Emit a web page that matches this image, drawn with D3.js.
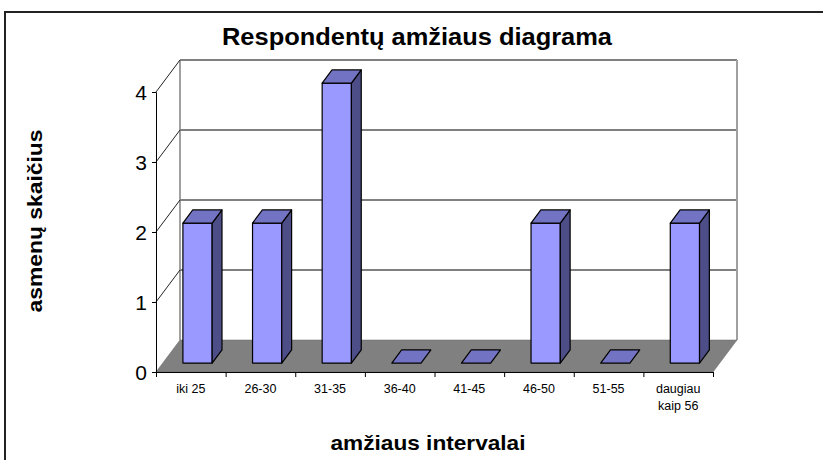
<!DOCTYPE html>
<html>
<head>
<meta charset="utf-8">
<script src="https://cdn.jsdelivr.net/npm/d3@7"></script>
<style>
  body { margin: 0; background: #fff; }
  svg text { font-family: "Liberation Sans", Arial, sans-serif; }
</style>
</head>
<body>
<svg id="chart" width="823" height="460"></svg>
<script>
// data
let categories = ["iki 25", "26-30", "31-35", "36-40", "41-45", "46-50", "51-55", "daugiau kaip 56"];
let values = [2, 2, 4, 0, 0, 2, 0, 2];
let yTicks = [0, 1, 2, 3, 4];

let svg = d3.select('#chart');

// outer frame (runs off the right and bottom)
svg.append('rect')
    .attr('x', 5).attr('y', 12)
    .attr('width', 900).attr('height', 500)
    .attr('fill', 'none').attr('stroke', '#222').attr('stroke-width', 2);

let x = d3.scaleBand().domain(categories).range([156, 713]).padding(0);
let xEdges = d3.scaleLinear().domain([0, categories.length]).range([156, 713]);
let y = d3.scaleLinear().domain([0, 4]).range([372, 92]);

// depth offset of the 3d box
let DX = 24, DY = -32;
function pt(px, py, f){ return [px + f*DX, py + f*DY]; }
function poly(points){ return points.map(p => p.join(',')).join(' '); }

let plot = svg.append('g');

// back wall grid lines
plot.selectAll('.grid')
    .data(yTicks.filter(d => d > 0))
    .enter().append('line')
    .attr('x1', 156 + DX).attr('x2', 713 + DX)
    .attr('y1', d => y(d) + DY).attr('y2', d => y(d) + DY)
    .attr('stroke', '#808080').attr('stroke-width', 2);

// back wall verticals
plot.append('line')
    .attr('x1', 156 + DX).attr('x2', 156 + DX)
    .attr('y1', y(4) + DY).attr('y2', y(0) + DY)
    .attr('stroke', '#808080').attr('stroke-width', 1.5);
plot.append('line')
    .attr('x1', 713 + DX).attr('x2', 713 + DX)
    .attr('y1', y(4) + DY).attr('y2', y(0) + DY)
    .attr('stroke', '#a0a0a0').attr('stroke-width', 2);

// left wall diagonals
plot.selectAll('.diag')
    .data(yTicks.filter(d => d > 0))
    .enter().append('line')
    .attr('x1', 156).attr('y1', d => y(d))
    .attr('x2', 156 + DX).attr('y2', d => y(d) + DY)
    .attr('stroke', '#222').attr('stroke-width', 1);

// floor
plot.append('polygon')
    .attr('points', poly([[156, y(0)], [713, y(0)], pt(713, y(0), 1), pt(156, y(0), 1)]))
    .attr('fill', '#808080').attr('stroke', '#666').attr('stroke-width', 0.5);

// bars
let f1 = 0.28, f2 = 0.69;
let barW = x.bandwidth() * 0.42;
let bars = plot.selectAll('.bar')
    .data(categories.map((c, i) => ({cat: c, v: values[i]})))
    .enter().append('g');

bars.each(function(d){
    let g = d3.select(this);
    let cx = x(d.cat) + x.bandwidth()/2;
    let l = cx - barW/2, r = cx + barW/2;
    let b = y(0), t = y(d.v);
    if(d.v > 0){
        // front
        g.append('polygon')
            .attr('points', poly([pt(l, b, f1), pt(r, b, f1), pt(r, t, f1), pt(l, t, f1)]))
            .attr('fill', '#9999ff').attr('stroke', '#000').attr('stroke-width', 1.2).attr('stroke-linejoin', 'round');
        // side
        g.append('polygon')
            .attr('points', poly([pt(r, b, f1), pt(r, b, f2), pt(r, t, f2), pt(r, t, f1)]))
            .attr('fill', '#4d4d87').attr('stroke', '#000').attr('stroke-width', 1.2).attr('stroke-linejoin', 'round');
    }
    // top
    g.append('polygon')
        .attr('points', poly([pt(l, t, f1), pt(r, t, f1), pt(r, t, f2), pt(l, t, f2)]))
        .attr('fill', '#7373c4').attr('stroke', '#000').attr('stroke-width', 1.2).attr('stroke-linejoin', 'round');
});

// axes
let yAxis = svg.append('g')
    .attr('transform', 'translate(156,0)')
    .call(d3.axisLeft(y).tickValues(yTicks).tickFormat(d3.format('d')).tickSize(4).tickPadding(5));
yAxis.select('.domain').attr('stroke', '#000');
yAxis.selectAll('.tick line').attr('stroke', '#000');
yAxis.selectAll('text').attr('font-size', 21).attr('fill', '#000').attr('dy', '0.35em')
    .attr('font-family', '"Liberation Sans", Arial, sans-serif');

let xTickAxis = svg.append('g')
    .attr('transform', 'translate(0,' + y(0) + ')')
    .call(d3.axisBottom(xEdges).ticks(categories.length).tickFormat('').tickSize(5).tickSizeOuter(0));
xTickAxis.select('.domain').attr('stroke', '#000');
xTickAxis.selectAll('.tick line').attr('stroke', '#000');

let xAxis = svg.append('g')
    .attr('transform', 'translate(0,' + y(0) + ')')
    .call(d3.axisBottom(x).tickSize(0).tickPadding(12));
xAxis.select('.domain').remove();
xAxis.selectAll('text')
    .attr('font-size', 12.5).attr('fill', '#000')
    .attr('font-family', '"Liberation Sans", Arial, sans-serif')
    .each(function(d){
        let words = d.split(' ');
        if(words.length > 2){
            let t = d3.select(this).text(null);
            t.append('tspan').attr('x', 0).text(words[0]);
            t.append('tspan').attr('x', 0).attr('dy', '1.35em').text(words.slice(1).join(' '));
        }
    });

// titles
svg.append('text')
    .attr('x', 417).attr('y', 45)
    .attr('text-anchor', 'middle')
    .attr('font-size', 23).attr('font-weight', 'bold')
    .attr('textLength', 390).attr('lengthAdjust', 'spacingAndGlyphs')
    .text('Respondentų amžiaus diagrama');

svg.append('text')
    .attr('x', 428).attr('y', 450)
    .attr('text-anchor', 'middle')
    .attr('font-size', 21).attr('font-weight', 'bold')
    .attr('textLength', 195).attr('lengthAdjust', 'spacingAndGlyphs')
    .text('amžiaus intervalai');

svg.append('text')
    .attr('transform', 'translate(42,221) rotate(-90)')
    .attr('text-anchor', 'middle')
    .attr('font-size', 21).attr('font-weight', 'bold')
    .attr('textLength', 183).attr('lengthAdjust', 'spacingAndGlyphs')
    .text('asmenų skaičius');
</script>
</body>
</html>
